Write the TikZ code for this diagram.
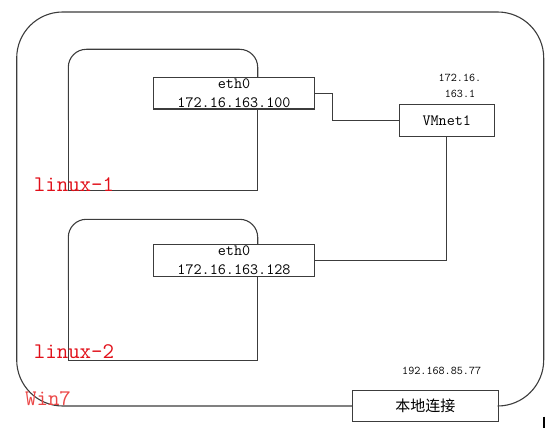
\documentclass[tikz,border=0pt]{standalone}
\usepackage{fontspec}
\setmainfont{Liberation Serif}
\newfontfamily\cjkfont{Noto Sans CJK SC}
\definecolor{linegray}{RGB}{60,60,60}
\definecolor{labelred}{RGB}{225,15,25}
\definecolor{winred}{RGB}{235,70,70}

\begin{document}
\begin{tikzpicture}[x=1pt,y=-1pt,
    frame/.style={draw=linegray,line width=1.1pt},
    netbox/.style={draw=linegray,line width=1.1pt,fill=white,inner sep=0pt,
        align=center,font=\ttfamily\fontsize{15.7}{19}\selectfont},
    iplabel/.style={inner sep=0pt,align=center,
        font=\ttfamily\fontsize{11.8}{15.7}\selectfont},
    hostlabel/.style={inner sep=0pt,text=labelred,
        font=\ttfamily\fontsize{22.3}{24}\selectfont}]

\useasboundingbox (0,0) rectangle (546,428);

% Interfaces
\node[netbox,minimum width=160.6,minimum height=31.3] (eth1) at (234,93.3)
{eth0\\172.16.163.100};

\node[netbox,minimum width=160.6,minimum height=31.3] (eth2) at (234,260.5)
{eth0\\172.16.163.128};

\node[netbox,minimum width=95,minimum height=31.7] (vmnet) at (446.8,120.2)
{VMnet1};

\node[netbox,minimum width=146,minimum height=31.5,font=\cjkfont\fontsize{15}{18}\selectfont] (lan) at (425.3,406)
{本地连接};

\node[iplabel] (vmnetip) at (460,86)
{172.16.\\163.1};

\node[iplabel] (lanip) at (441.7,370.7)
{192.168.85.77};

% Win7
\draw[frame,rounded corners=46] (lan.west) -- (16.7,406) -- (16.7,12)
    -- (543.7,12) -- (543.7,406) -- (lan.east);
\draw[line width=1.6pt] (544,416.5) -- (544,428);

% linux-1
\draw[frame,rounded corners=18] (eth1.north -| 257.7,0) -- (257.7,49.3)
    -- (68.3,49.3) -- (68.3,120);
\draw[frame] (68.3,119) -- (68.3,190.7) -- (257.7,190.7) -- (eth1.south -| 257.7,0);

% linux-2
\draw[frame,rounded corners=18] (eth2.north -| 257.7,0) -- (257.7,219.3)
    -- (68.3,219.3) -- (68.3,290);
\draw[frame] (68.3,289) -- (68.3,360.7) -- (257.7,360.7) -- (eth2.south -| 257.7,0);

% Liaisons
\draw[frame] (eth1.east) -- ++(18,0) |- (vmnet.west);
\draw[frame] (vmnet.south) |- (eth2.east);

% Noms
\node[hostlabel] (linux1) at (74,185)
{linux-1};

\node[hostlabel] (linux2) at (74,352)
{linux-2};

\node[hostlabel,text=winred] (win7) at (48,399)
{Win7};

\end{tikzpicture}
\end{document}
